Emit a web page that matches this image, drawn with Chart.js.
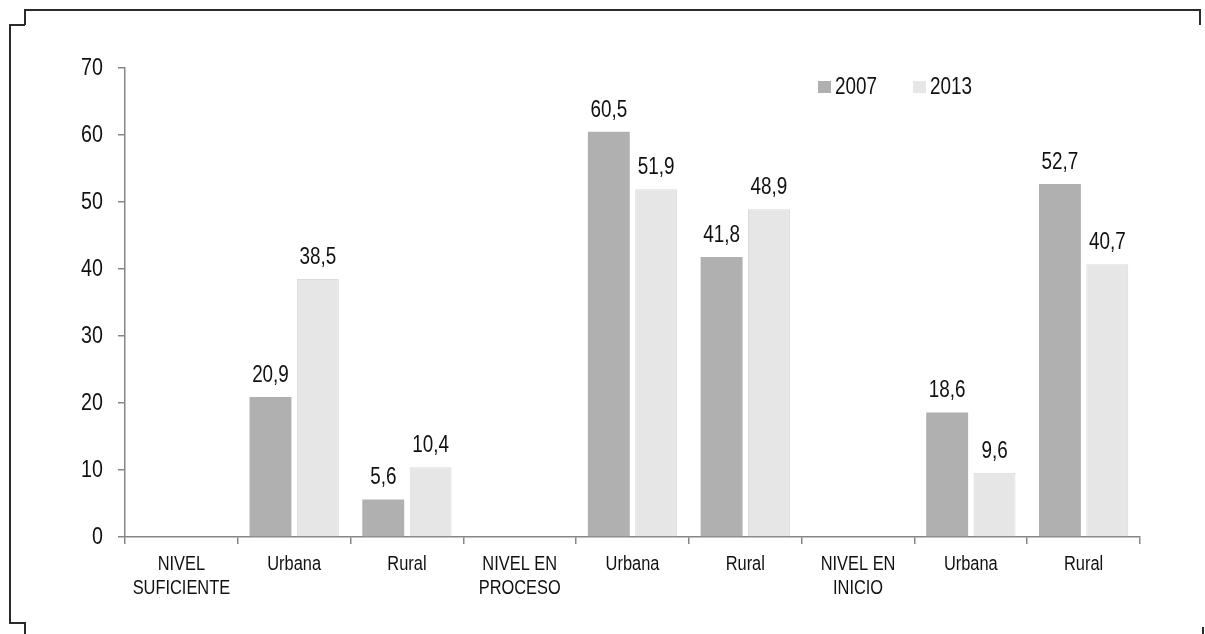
<!DOCTYPE html>
<html>
<head>
<meta charset="utf-8">
<script src="https://cdn.jsdelivr.net/npm/chart.js@4"></script>
<style>
  html, body { margin: 0; padding: 0; background: #fff; }
  #wrap { width: 1205px; height: 634px; position: relative; }
</style>
</head>
<body>
<div id="wrap"><canvas id="chart"></canvas></div>
<script>
const categories = [
  ["NIVEL", "SUFICIENTE"], "Urbana", "Rural",
  ["NIVEL EN", "PROCESO"], "Urbana", "Rural",
  ["NIVEL EN", "INICIO"], "Urbana", "Rural"
];
const values2007 = [null, 20.9, 5.6, null, 60.5, 41.8, null, 18.6, 52.7];
const values2013 = [null, 38.5, 10.4, null, 51.9, 48.9, null, 9.6, 40.7];
const seriesNames = ["2007", "2013"];

const FONT = "'Liberation Sans', Arial, sans-serif";
const NARROW = 0.82; // imita Arial Narrow

function narrowText(c, txt, x, y) {
  c.save();
  c.translate(x, y);
  c.scale(NARROW, 1);
  c.fillText(txt, 0, 0);
  c.restore();
}

// etiquetas encima de cada barra (coma decimal)
const valueLabels = {
  id: "valueLabels",
  afterDatasetsDraw(chart) {
    const c = chart.ctx;
    c.save();
    c.font = "23px " + FONT;
    c.fillStyle = "#111";
    c.textAlign = "center";
    c.textBaseline = "alphabetic";
    chart.data.datasets.forEach((ds, i) => {
      chart.getDatasetMeta(i).data.forEach((bar, j) => {
        const v = ds.data[j];
        if (v === null) return;
        narrowText(c, v.toFixed(1).replace(".", ","), bar.x, bar.y - 15);
      });
    });
    c.restore();
  }
};

// textos de los ejes, estrechos
const axisText = {
  id: "axisText",
  afterDraw(chart) {
    const c = chart.ctx;
    const x = chart.scales.x, y = chart.scales.y;
    c.save();
    c.fillStyle = "#111";
    c.font = "24px " + FONT;
    c.textAlign = "right";
    c.textBaseline = "middle";
    y.ticks.forEach((t, i) => {
      narrowText(c, String(t.value), y.right - 22, y.getPixelForTick(i));
    });
    c.font = "20px " + FONT;
    c.textAlign = "center";
    c.textBaseline = "alphabetic";
    categories.forEach((lab, i) => {
      const lines = Array.isArray(lab) ? lab : [lab];
      lines.forEach((ln, k) => {
        narrowText(c, ln, x.getPixelForTick(i), x.top + 33 + k * 24);
      });
    });
    c.restore();
  }
};

// leyenda dentro del área del gráfico
const innerLegend = {
  id: "innerLegend",
  afterDraw(chart) {
    const c = chart.ctx;
    c.save();
    c.font = "23px " + FONT;
    c.textBaseline = "alphabetic";
    c.textAlign = "left";
    const xs = [818, 913];
    chart.data.datasets.forEach((ds, i) => {
      c.fillStyle = ds.backgroundColor;
      c.fillRect(xs[i], 81, 13, 12);
      c.fillStyle = "#111";
      narrowText(c, ds.label, xs[i] + 17, 94);
    });
    c.restore();
  }
};

// marco recortado alrededor de la imagen
const frame = {
  id: "frame",
  afterDraw(chart) {
    const c = chart.ctx;
    c.save();
    c.strokeStyle = "#2b2b2b";
    c.lineWidth = 2;
    c.beginPath();
    c.moveTo(25, 25); c.lineTo(25, 10); c.lineTo(1200, 10); c.lineTo(1200, 25);
    c.moveTo(25, 25); c.lineTo(10, 25); c.lineTo(10, 623); c.lineTo(25, 623); c.lineTo(25, 634);
    c.moveTo(1203, 627); c.lineTo(1203, 634);
    c.stroke();
    c.restore();
  }
};

new Chart(document.getElementById("chart"), {
  type: "bar",
  data: {
    labels: categories,
    datasets: [
      {
        label: seriesNames[0],
        data: values2007,
        backgroundColor: "#b0b0b0",
        categoryPercentage: 0.84,
        barPercentage: 0.885
      },
      {
        label: seriesNames[1],
        data: values2013,
        backgroundColor: "#e6e6e6",
        borderColor: "#dadada",
        borderWidth: 1,
        categoryPercentage: 0.84,
        barPercentage: 0.885
      }
    ]
  },
  options: {
    responsive: true,
    maintainAspectRatio: false,
    animation: false,
    layout: { padding: { top: 68, right: 65, left: 0, bottom: 0 } },
    plugins: {
      legend: { display: false },
      tooltip: { enabled: false }
    },
    scales: {
      x: {
        grid: { drawOnChartArea: false, tickLength: 7, color: "#868686", lineWidth: 1.5 },
        border: { color: "#868686", width: 1.5 },
        ticks: { display: false, autoSkip: false },
        afterFit(s) { s.height = 97; }
      },
      y: {
        min: 0,
        max: 70,
        grid: { drawOnChartArea: false, tickLength: 7, color: "#868686", lineWidth: 1.5 },
        border: { color: "#868686", width: 1.5 },
        ticks: { display: false, stepSize: 10 },
        afterFit(s) { s.width = 125; }
      }
    }
  },
  plugins: [valueLabels, axisText, innerLegend, frame]
});
</script>
</body>
</html>
